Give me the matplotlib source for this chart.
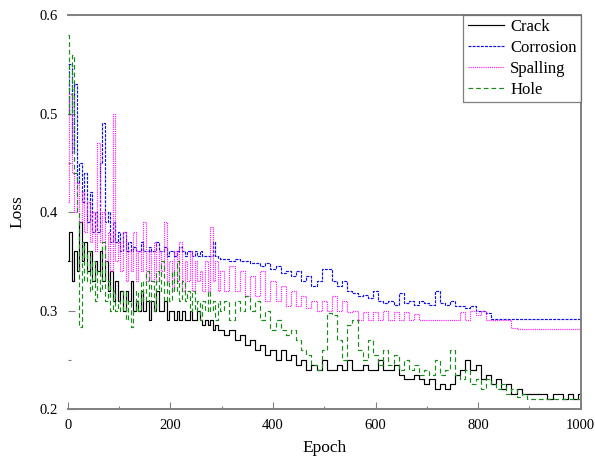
import numpy as np
import matplotlib.pyplot as plt
from matplotlib.ticker import MultipleLocator

# epoch grid: every 5 epochs up to 295, then every 10 epochs
epochs = np.concatenate([np.arange(0, 300, 5), np.arange(300, 1001, 10)])

crack = [
    0.35, 0.38, 0.33, 0.36, 0.34, 0.39, 0.35, 0.37, 0.34, 0.36,
    0.33, 0.35, 0.34, 0.36, 0.33, 0.35, 0.32, 0.34, 0.31, 0.33,
    0.31, 0.32, 0.30, 0.32, 0.31, 0.33, 0.30, 0.31, 0.30, 0.32,
    0.30, 0.31, 0.29, 0.31, 0.30, 0.32, 0.30, 0.30, 0.31, 0.29,
    0.30, 0.30, 0.29, 0.30, 0.29, 0.30, 0.29, 0.29, 0.30, 0.29,
    0.29, 0.30, 0.29, 0.285, 0.29, 0.285, 0.29, 0.28, 0.285, 0.28,
    # 300 .. 1000
    0.28, 0.275, 0.28, 0.27, 0.275, 0.265, 0.27, 0.26, 0.265, 0.255,
    0.26, 0.25, 0.26, 0.25, 0.255, 0.245, 0.25, 0.24, 0.245, 0.24,
    0.25, 0.24, 0.24, 0.245, 0.24, 0.25, 0.24, 0.24, 0.245, 0.24,
    0.24, 0.25, 0.24, 0.24, 0.245, 0.235, 0.23, 0.23, 0.235, 0.23,
    0.225, 0.23, 0.22, 0.225, 0.22, 0.225, 0.235, 0.24, 0.25, 0.24,
    0.245, 0.23, 0.235, 0.225, 0.23, 0.22, 0.225, 0.215, 0.22, 0.215,
    0.215, 0.215, 0.215, 0.215, 0.21, 0.215, 0.215, 0.21, 0.215, 0.21,
    0.215,
]

corrosion = [
    0.50, 0.55, 0.46, 0.53, 0.43, 0.45, 0.41, 0.44, 0.39, 0.42,
    0.38, 0.40, 0.38, 0.45, 0.49, 0.39, 0.40, 0.37, 0.39, 0.37,
    0.38, 0.36, 0.38, 0.36, 0.37, 0.36, 0.365, 0.36, 0.36, 0.37,
    0.36, 0.36, 0.365, 0.36, 0.36, 0.37, 0.36, 0.36, 0.365, 0.355,
    0.36, 0.36, 0.355, 0.36, 0.365, 0.36, 0.355, 0.36, 0.36, 0.355,
    0.36, 0.355, 0.36, 0.355, 0.355, 0.355, 0.355, 0.37, 0.355, 0.353,
    # 300 .. 1000
    0.352, 0.352, 0.35, 0.352, 0.35, 0.35, 0.348, 0.348, 0.345, 0.348,
    0.342, 0.345, 0.338, 0.34, 0.335, 0.34, 0.33, 0.335, 0.325, 0.33,
    0.342, 0.342, 0.33, 0.325, 0.33, 0.32, 0.318, 0.315, 0.316, 0.313,
    0.32, 0.31, 0.308, 0.31, 0.306, 0.318, 0.308, 0.31, 0.306, 0.31,
    0.308, 0.306, 0.32, 0.308, 0.306, 0.31, 0.305, 0.305, 0.303, 0.305,
    0.30, 0.30, 0.297, 0.291, 0.291, 0.291, 0.291, 0.291, 0.291, 0.291,
    0.291, 0.291, 0.291, 0.291, 0.291, 0.291, 0.291, 0.291, 0.291, 0.291,
    0.291,
]

spalling = [
    0.41, 0.52, 0.44, 0.40, 0.43, 0.39, 0.42, 0.38, 0.41, 0.37,
    0.40, 0.36, 0.47, 0.37, 0.40, 0.35, 0.38, 0.34, 0.50, 0.35,
    0.37, 0.34, 0.38, 0.33, 0.36, 0.34, 0.38, 0.33, 0.36, 0.34,
    0.39, 0.33, 0.36, 0.33, 0.37, 0.33, 0.36, 0.34, 0.39, 0.33,
    0.35, 0.32, 0.36, 0.33, 0.37, 0.32, 0.35, 0.33, 0.36, 0.32,
    0.35, 0.33, 0.34, 0.32, 0.35, 0.32, 0.385, 0.33, 0.35, 0.32,
    # 300 .. 1000
    0.34, 0.32, 0.345, 0.32, 0.34, 0.315, 0.335, 0.315, 0.34, 0.31,
    0.33, 0.31, 0.325, 0.305, 0.32, 0.305, 0.315, 0.303, 0.31, 0.30,
    0.31, 0.30, 0.315, 0.30, 0.31, 0.298, 0.30, 0.29, 0.298, 0.29,
    0.298, 0.29, 0.30, 0.29, 0.298, 0.29, 0.298, 0.29, 0.296, 0.29,
    0.29, 0.29, 0.29, 0.29, 0.29, 0.29, 0.29, 0.298, 0.29, 0.30,
    0.295, 0.30, 0.29, 0.29, 0.29, 0.29, 0.29, 0.282, 0.281, 0.281,
    0.281, 0.281, 0.281, 0.281, 0.281, 0.281, 0.281, 0.281, 0.281, 0.281,
    0.281,
]

hole = [
    0.58, 0.50, 0.56, 0.44, 0.40, 0.283, 0.37, 0.33, 0.36, 0.32,
    0.35, 0.31, 0.34, 0.32, 0.37, 0.31, 0.33, 0.30, 0.32, 0.30,
    0.31, 0.30, 0.32, 0.29, 0.31, 0.283, 0.30, 0.32, 0.30, 0.33,
    0.31, 0.34, 0.31, 0.33, 0.30, 0.34, 0.32, 0.35, 0.31, 0.33,
    0.31, 0.34, 0.32, 0.35, 0.31, 0.33, 0.31, 0.32, 0.30, 0.32,
    0.30, 0.31, 0.29, 0.31, 0.30, 0.32, 0.30, 0.31, 0.29, 0.31,
    # 300 .. 1000
    0.30, 0.31, 0.29, 0.31, 0.30, 0.315, 0.30, 0.31, 0.29, 0.30,
    0.28, 0.29, 0.28, 0.275, 0.28, 0.27, 0.26, 0.255, 0.245, 0.24,
    0.26, 0.297, 0.295, 0.27, 0.25, 0.285, 0.29, 0.26, 0.25, 0.27,
    0.255, 0.245, 0.26, 0.245, 0.255, 0.24, 0.25, 0.24, 0.245, 0.235,
    0.24, 0.235, 0.25, 0.235, 0.24, 0.26, 0.235, 0.23, 0.24, 0.225,
    0.23, 0.22, 0.23, 0.225, 0.22, 0.225, 0.215, 0.22, 0.212, 0.215,
    0.21, 0.21, 0.21, 0.21, 0.21, 0.21, 0.21, 0.21, 0.21, 0.21,
    0.21,
]

series = [
    ("Crack", crack, "black", "-"),
    ("Corrosion", corrosion, "#1010e0", (0, (2.5, 1))),
    ("Spalling", spalling, "#ff20ff", (0, (1, 0.8))),
    ("Hole", hole, "#1a8a1a", (0, (4, 2.5))),
]

plt.rcParams['font.family'] = ['Liberation Serif', 'DejaVu Serif']

fig = plt.figure(figsize=(5.95, 4.58), dpi=100)
ax = fig.add_axes([0.114, 0.107, 0.862, 0.860])

for name, vals, col, ls in series:
    ax.plot(epochs, vals, color=col, linestyle=ls, linewidth=0.85,
            drawstyle='steps-mid', label=name)

ax.set_xlim(0, 1000)
ax.set_ylim(0.2, 0.6)
ax.xaxis.set_major_locator(MultipleLocator(200))
ax.xaxis.set_minor_locator(MultipleLocator(100))
ax.yaxis.set_major_locator(MultipleLocator(0.1))
ax.yaxis.set_minor_locator(MultipleLocator(0.05))
ax.yaxis.set_major_formatter(plt.FuncFormatter(lambda v, p: f"{v:.1f}"))

for side in ['top', 'right', 'bottom']:
    ax.spines[side].set_color('#808080')
    ax.spines[side].set_linewidth(1.4)
ax.spines['left'].set_visible(False)

ax.tick_params(which='major', direction='in', length=5, width=0.8,
               color='#808080', labelsize=10.5, pad=7)
ax.tick_params(which='minor', direction='in', length=2.5, width=0.8,
               color='#808080')

ax.set_xlabel("Epoch", fontsize=12.5, labelpad=6)
ax.set_ylabel("Loss", fontsize=12.5, labelpad=10)

leg = ax.legend(loc='upper right', bbox_to_anchor=(1, 1), borderaxespad=0,
                fontsize=12, frameon=True, fancybox=False,
                handlelength=2.2, handletextpad=0.35, labelspacing=0.3,
                borderpad=0.25)
leg.get_frame().set_edgecolor('#606060')
leg.get_frame().set_linewidth(0.9)

fig.savefig("out.png", dpi=100, facecolor='white')
